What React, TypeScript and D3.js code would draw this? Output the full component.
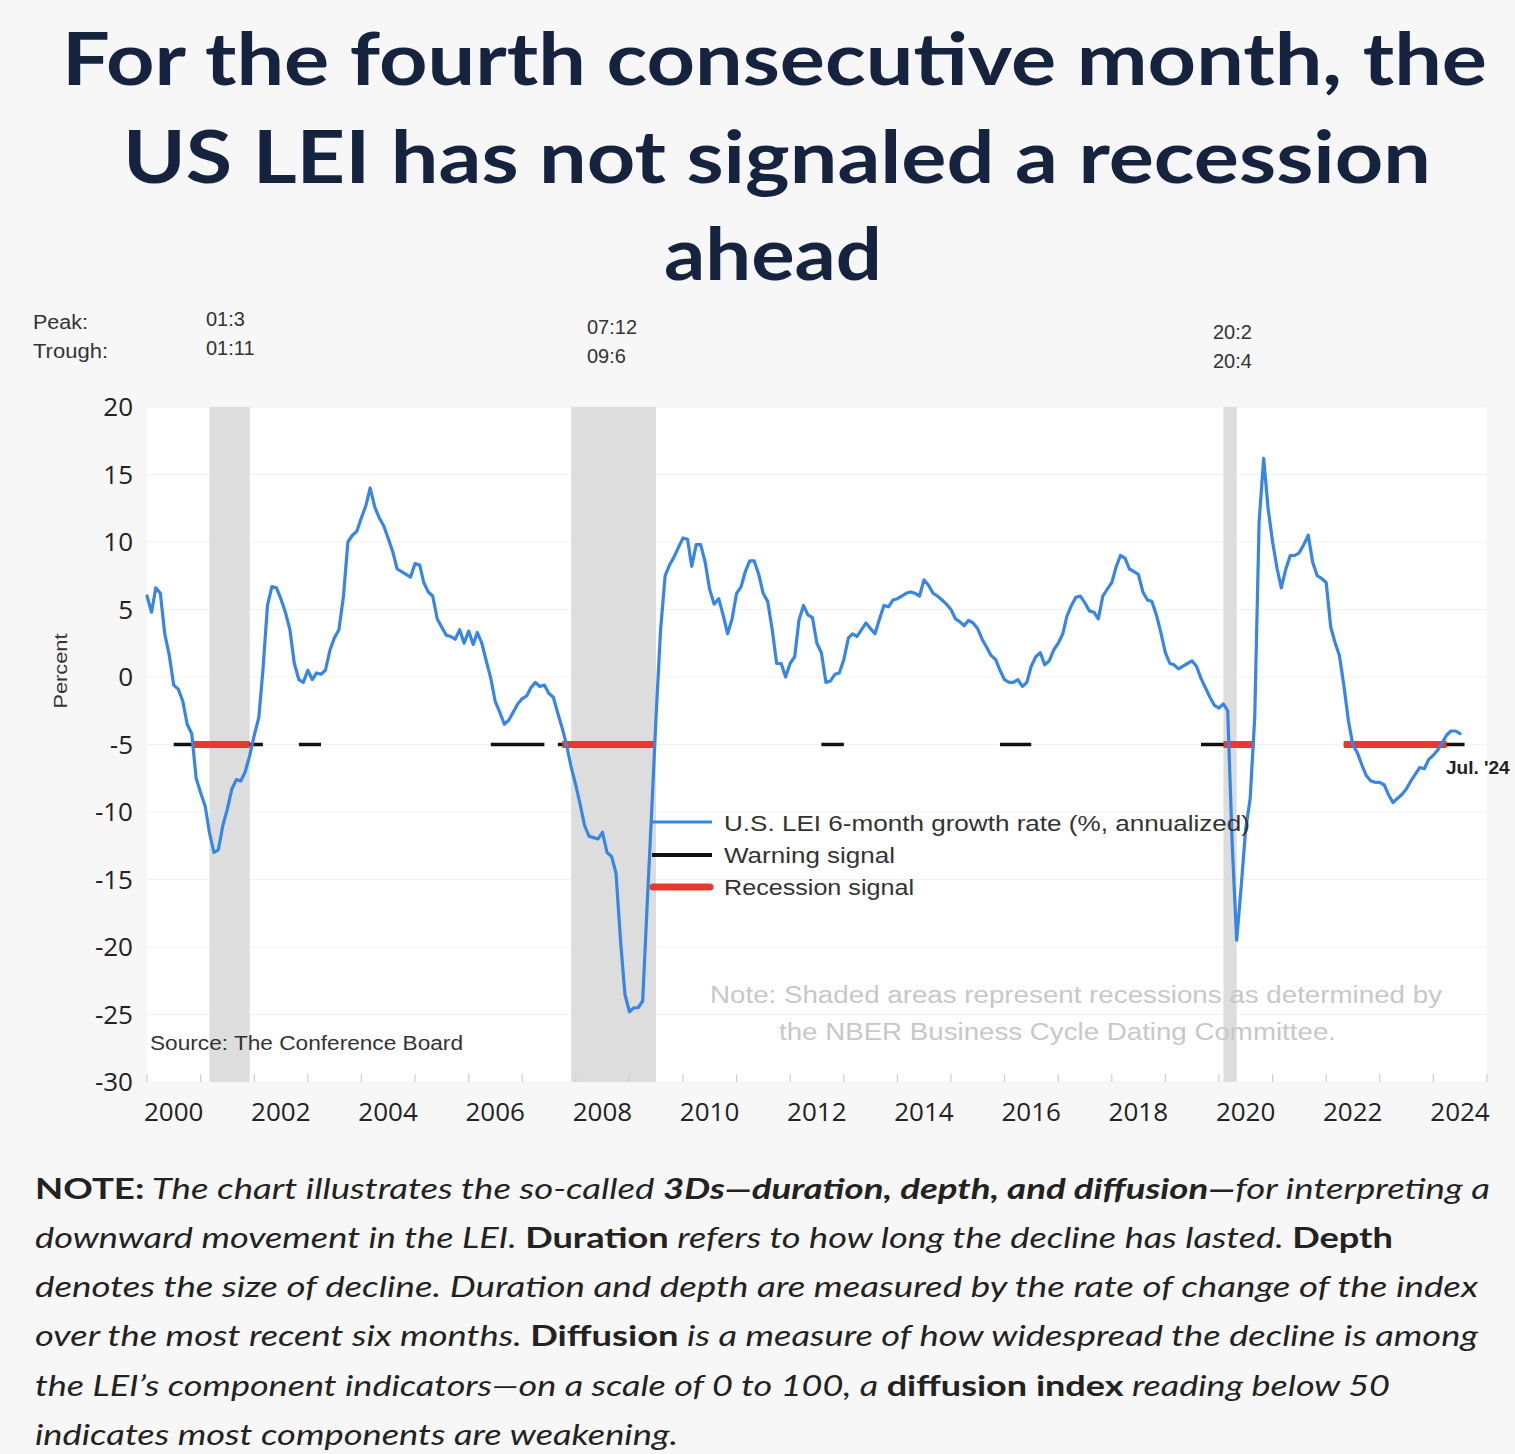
import React, { useEffect } from 'react';
import * as d3 from 'd3';

// ---------- DATA ----------
// U.S. LEI 6-month growth rate (%, annualized), monthly, starting Jan 2000
const lei2000to2004 = [
  6.0, 4.8, 6.6, 6.2, 3.2, 1.6, -0.6, -0.9, -1.8, -3.5, -4.2, -7.5,
  -8.6, -9.6, -11.5, -13.0, -12.8, -11.0, -9.8, -8.3, -7.6, -7.7, -7.0, -5.8,
  -4.3, -3.0, 0.5, 5.3, 6.7, 6.6, 5.8, 4.8, 3.5, 1.0, -0.2, -0.4,
  0.5, -0.2, 0.3, 0.2, 0.5, 2.0, 2.9, 3.5, 6.0, 10.0, 10.5, 10.8,
  11.8, 12.7, 14.0, 12.6, 11.8, 11.2, 10.3, 9.3, 8.0, 7.8, 7.6, 7.4,
];
const lei2005to2009 = [
  8.4, 8.3, 7.0, 6.3, 6.0, 4.3, 3.7, 3.1, 3.0, 2.8, 3.5, 2.5,
  3.4, 2.4, 3.3, 2.5, 1.2, -0.1, -1.8, -2.6, -3.5, -3.2, -2.6, -2.0,
  -1.6, -1.4, -0.8, -0.4, -0.7, -0.6, -1.2, -1.5, -2.7, -3.8, -5.1, -6.7,
  -8.0, -9.5, -11.0, -11.8, -11.9, -12.0, -11.5, -13.0, -13.3, -14.5, -19.5, -23.5,
  -24.8, -24.5, -24.5, -24.0, -17.0, -10.0, -3.0, 3.5, 7.5, 8.3, 8.9, 9.6,
];
const lei2010to2014 = [
  10.3, 10.2, 8.2, 9.8, 9.8, 8.5, 6.5, 5.4, 5.8, 4.6, 3.2, 4.3,
  6.2, 6.7, 7.8, 8.6, 8.6, 7.6, 6.2, 5.6, 3.5, 1.0, 1.0, 0.0,
  1.0, 1.5, 4.2, 5.3, 4.6, 4.4, 2.5, 1.8, -0.4, -0.3, 0.2, 0.3,
  1.3, 2.9, 3.2, 3.0, 3.5, 4.0, 3.6, 3.2, 4.3, 5.3, 5.2, 5.7,
  5.8, 6.0, 6.2, 6.3, 6.2, 6.0, 7.2, 6.8, 6.2, 6.0, 5.7, 5.4,
];
const lei2015to2019 = [
  5.0, 4.3, 4.1, 3.8, 4.2, 4.0, 3.6, 2.8, 2.2, 1.6, 1.3, 0.5,
  -0.2, -0.4, -0.4, -0.2, -0.7, -0.4, 0.8, 1.5, 1.8, 0.9, 1.2, 2.0,
  2.5, 3.2, 4.5, 5.3, 5.9, 6.0, 5.5, 4.9, 4.8, 4.3, 6.0, 6.5,
  7.0, 8.2, 9.0, 8.8, 8.0, 7.8, 7.6, 6.3, 5.7, 5.6, 4.6, 3.3,
  1.8, 1.0, 0.9, 0.6, 0.8, 1.0, 1.2, 0.8, -0.1, -0.8, -1.5, -2.1,
];
const lei2020to2024 = [
  -2.3, -2.0, -2.5, -12.5, -19.5, -15.5, -11.3, -9.0, -3.0, 11.5, 16.2, 12.5,
  10.0, 8.0, 6.6, 8.0, 9.0, 9.0, 9.2, 9.8, 10.5, 8.5, 7.5, 7.3,
  7.0, 3.7, 2.6, 1.6, -0.6, -3.2, -5.0, -5.6, -6.5, -7.3, -7.7, -7.8,
  -7.8, -8.0, -8.7, -9.3, -9.0, -8.7, -8.3, -7.7, -7.2, -6.7, -6.8, -6.1,
  -5.8, -5.4, -4.9, -4.3, -4.0, -4.0, -4.2,
];

// NBER recessions (peak month, trough month)
const recessionPeaks = ['2001-03', '2007-12', '2020-02'];
const recessionTroughs = ['2001-11', '2009-06', '2020-04'];
const peakLabels = ['01:3', '07:12', '20:2'];
const troughLabels = ['01:11', '09:6', '20:4'];

// Signal periods (first month, last month)
const warningPeriods = [
  ['2000-07', '2002-02'], ['2002-11', '2003-03'], ['2006-06', '2007-05'],
  ['2007-09', '2009-06'], ['2012-08', '2012-12'], ['2015-12', '2016-06'],
  ['2019-09', '2020-08'], ['2022-05', '2024-07'],
];
const recessionSignalPeriods = [
  ['2000-11', '2001-11'], ['2007-10', '2009-06'], ['2020-02', '2020-08'],
  ['2022-05', '2024-03'],
];

const yTicks = [20, 15, 10, 5, 0, -5, -10, -15, -20, -25, -30];
const xLabelYears = [2000, 2002, 2004, 2006, 2008, 2010, 2012, 2014, 2016, 2018, 2020, 2022, 2024];
const xTickYears = d3.range(2000, 2026);

const titleLines = [
  'For the fourth consecutive month, the',
  'US LEI has not signaled a recession',
  'ahead',
];
const legendLabels = ['U.S. LEI 6-month growth rate (%, annualized)', 'Warning signal', 'Recession signal'];

// ---------- HELPERS ----------
const leiSeries = [...lei2000to2004, ...lei2005to2009, ...lei2010to2014, ...lei2015to2019, ...lei2020to2024];
const parseMonth = (s: string) => {
  const [y, m] = s.split('-').map(Number);
  return new Date(y, m - 1, 1);
};
const monthAfter = (s: string) => {
  const d = parseMonth(s);
  return new Date(d.getFullYear(), d.getMonth() + 1, 1);
};

const W = 1515;
const H = 1454;
const PL = 147, PR = 1487, PT = 407, PB = 1082;

const x = d3.scaleTime().domain([new Date(2000, 0, 1), new Date(2025, 0, 1)]).range([PL, PR]);
const y = d3.scaleLinear().domain([-30, 20]).range([PB, PT]);

const BLUE = '#3786e6';
const RED = '#e8392d';
const NAVY = '#16233f';

export default function App() {
  useEffect(() => {
    document.body.style.margin = '0';
    document.body.style.overflow = 'hidden';
  }, []);

  const points = leiSeries.map((v, i) => ({ d: new Date(2000, i, 1), v }));
  const line = d3.line<{ d: Date; v: number }>().x(p => x(p.d)).y(p => y(p.v)).curve(d3.curveLinear);
  const lastPoint = points[points.length - 1];
  const sigY = y(-5);

  const uiFont = "'Liberation Sans', Arial, sans-serif";
  const numFont = "'Open Sans', sans-serif";
  const noteFont = "Lato, 'Open Sans', sans-serif";

  return (
    <svg width={W} height={H} style={{ position: 'absolute', left: 0, top: 0, display: 'block' }}>
      <rect x={0} y={0} width={W} height={H} fill="#f7f7f7" />

      {/* Title */}
      {titleLines.map((t, i) => {
        const xs = [62, 123, 664];
        const ws = [1425, 1308, 218];
        const ys = [85, 183, 280];
        return (
          <text key={i} x={xs[i]} y={ys[i]} fontFamily="Lato, sans-serif" fontWeight={700} fontSize={73}
            fill={NAVY} textLength={ws[i]} lengthAdjust="spacingAndGlyphs">{t}</text>
        );
      })}

      {/* Peak / trough labels */}
      <text x={33} y={329} fontFamily={uiFont} fontSize={20} fill="#333" textLength={55} lengthAdjust="spacingAndGlyphs">Peak:</text>
      <text x={33} y={358} fontFamily={uiFont} fontSize={20} fill="#333" textLength={75} lengthAdjust="spacingAndGlyphs">Trough:</text>
      {recessionPeaks.map((p, i) => {
        const lx = [206, 587, 1213][i];
        const ly = [326, 334, 339][i];
        return (
          <g key={p}>
            <text x={lx} y={ly} fontFamily={uiFont} fontSize={20} fill="#333">{peakLabels[i]}</text>
            <text x={lx} y={ly + 29} fontFamily={uiFont} fontSize={20} fill="#333">{troughLabels[i]}</text>
          </g>
        );
      })}

      {/* Plot area */}
      <rect x={PL} y={PT} width={PR - PL} height={PB - PT} fill="#ffffff" />
      {yTicks.map(t => (
        <line key={t} x1={PL} x2={PR} y1={y(t)} y2={y(t)} stroke="#f1f1f1" strokeWidth={1} />
      ))}

      {/* Recession shading */}
      {recessionPeaks.map((p, i) => (
        <rect key={p} x={x(parseMonth(p))} y={PT}
          width={x(monthAfter(recessionTroughs[i])) - x(parseMonth(p))} height={PB - PT} fill="#dddddd" />
      ))}

      {/* X ticks */}
      {xTickYears.map(yr => (
        <line key={yr} x1={x(new Date(yr, 0, 1))} x2={x(new Date(yr, 0, 1))} y1={PB - 8} y2={PB}
          stroke="#cfcfcf" strokeWidth={1.2} />
      ))}

      {/* Signals */}
      {warningPeriods.map(([a, b], i) => (
        <line key={'w' + i} x1={x(parseMonth(a))} x2={x(monthAfter(b))} y1={sigY} y2={sigY}
          stroke="#111" strokeWidth={3.5} />
      ))}
      {recessionSignalPeriods.map(([a, b], i) => (
        <line key={'r' + i} x1={x(parseMonth(a))} x2={x(monthAfter(b))} y1={sigY} y2={sigY}
          stroke={RED} strokeWidth={7} />
      ))}

      {/* LEI line */}
      <path d={line(points) || ''} fill="none" stroke={BLUE} strokeWidth={3.2} strokeLinejoin="round" strokeLinecap="round" />

      {/* Jul '24 label */}
      <text x={x(lastPoint.d) - 14} y={774} fontFamily={uiFont} fontWeight={700} fontSize={19} fill="#222">Jul. '24</text>

      {/* Y labels */}
      {yTicks.map(t => (
        <text key={t} x={133} y={y(t) + 9} textAnchor="end" fontFamily={numFont} fontSize={26} fill="#222">{t}</text>
      ))}
      <text transform="translate(67,671) rotate(-90)" textAnchor="middle" fontFamily={uiFont} fontSize={18} fill="#333"
        textLength={75} lengthAdjust="spacingAndGlyphs">Percent</text>

      {/* X labels */}
      {xLabelYears.map(yr => (
        <text key={yr} x={x(new Date(yr, 6, 1))} y={1121} textAnchor="middle" fontFamily={numFont} fontSize={26} fill="#222">{yr}</text>
      ))}

      {/* Legend */}
      <line x1={652} x2={712} y1={822} y2={822} stroke={BLUE} strokeWidth={3} />
      <line x1={652} x2={712} y1={855} y2={855} stroke="#111" strokeWidth={4} />
      <line x1={653} x2={710} y1={887} y2={887} stroke={RED} strokeWidth={7} strokeLinecap="round" />
      <text x={724} y={831} fontFamily={uiFont} fontSize={22} fill="#333" textLength={526} lengthAdjust="spacingAndGlyphs">{legendLabels[0]}</text>
      <text x={724} y={863} fontFamily={uiFont} fontSize={22} fill="#333" textLength={171} lengthAdjust="spacingAndGlyphs">{legendLabels[1]}</text>
      <text x={724} y={895} fontFamily={uiFont} fontSize={22} fill="#333" textLength={190} lengthAdjust="spacingAndGlyphs">{legendLabels[2]}</text>

      {/* Source & note */}
      <text x={150} y={1050} fontFamily={uiFont} fontSize={20} fill="#333" textLength={313} lengthAdjust="spacingAndGlyphs">Source: The Conference Board</text>
      <text x={710} y={1003} fontFamily={uiFont} fontSize={23} fill="#c8c8c8" textLength={732} lengthAdjust="spacingAndGlyphs">Note: Shaded areas represent recessions as determined by</text>
      <text x={779} y={1040} fontFamily={uiFont} fontSize={23} fill="#c8c8c8" textLength={557} lengthAdjust="spacingAndGlyphs">the NBER Business Cycle Dating Committee.</text>

      {/* Bottom NOTE */}
      <g fontFamily={noteFont} fontSize={29} fill="#222">
        <text x={35} y={1199} textLength={1455} lengthAdjust="spacingAndGlyphs">
          <tspan fontWeight={700} fontStyle="normal">NOTE:</tspan>
          <tspan fontStyle="italic"> The chart illustrates the so-called </tspan>
          <tspan fontWeight={700} fontStyle="italic">3Ds—duration, depth, and diffusion—</tspan>
          <tspan fontStyle="italic">for interpreting a</tspan>
        </text>
        <text x={35} y={1248} textLength={1358} lengthAdjust="spacingAndGlyphs">
          <tspan fontStyle="italic">downward movement in the LEI. </tspan>
          <tspan fontWeight={700}>Duration</tspan>
          <tspan fontStyle="italic"> refers to how long the decline has lasted. </tspan>
          <tspan fontWeight={700}>Depth</tspan>
        </text>
        <text x={35} y={1297} textLength={1443} lengthAdjust="spacingAndGlyphs" fontStyle="italic">
          denotes the size of decline. Duration and depth are measured by the rate of change of the index
        </text>
        <text x={35} y={1346} textLength={1443} lengthAdjust="spacingAndGlyphs">
          <tspan fontStyle="italic">over the most recent six months. </tspan>
          <tspan fontWeight={700}>Diffusion</tspan>
          <tspan fontStyle="italic"> is a measure of how widespread the decline is among</tspan>
        </text>
        <text x={35} y={1396} textLength={1355} lengthAdjust="spacingAndGlyphs">
          <tspan fontStyle="italic">the LEI’s component indicators—on a scale of 0 to 100, a </tspan>
          <tspan fontWeight={700}>diffusion index</tspan>
          <tspan fontStyle="italic"> reading below 50</tspan>
        </text>
        <text x={35} y={1445} textLength={643} lengthAdjust="spacingAndGlyphs" fontStyle="italic">
          indicates most components are weakening.
        </text>
      </g>
    </svg>
  );
}
